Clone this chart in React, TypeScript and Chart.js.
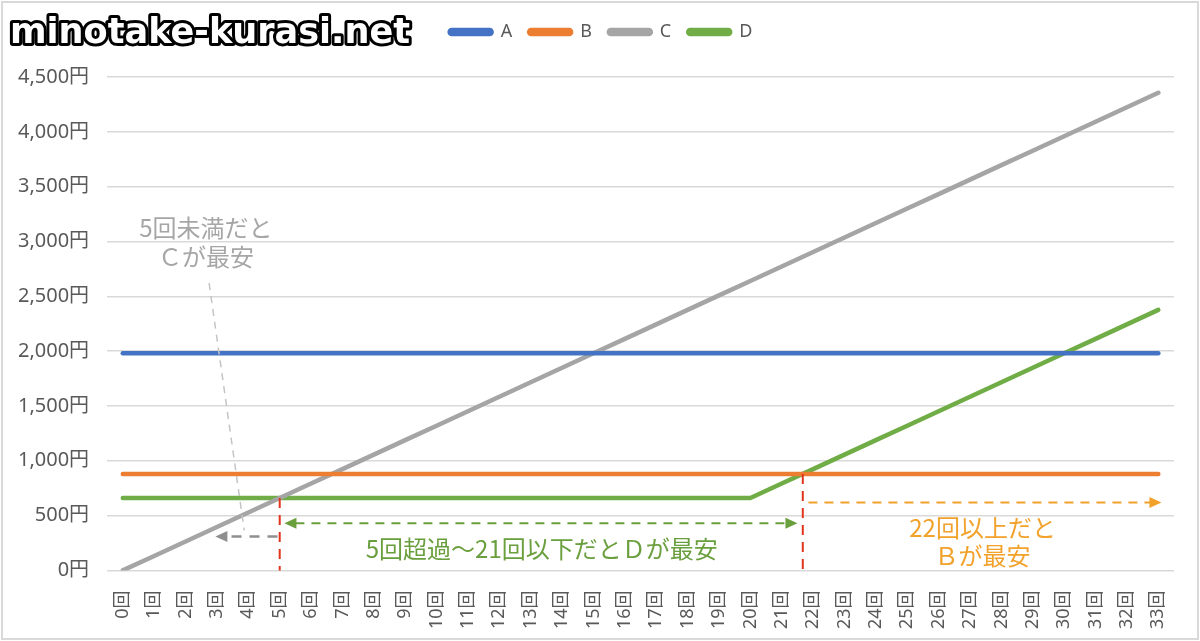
import React, { useEffect, useRef } from "react";
import { Chart, registerables } from "chart.js";

Chart.register(...registerables);

const categories = [
  "0回", "1回", "2回", "3回", "4回", "5回", "6回", "7回", "8回", "9回",
  "10回", "11回", "12回", "13回", "14回", "15回", "16回", "17回", "18回", "19回",
  "20回", "21回", "22回", "23回", "24回", "25回", "26回", "27回", "28回", "29回",
  "30回", "31回", "32回", "33回",
];

const seriesA = [
  1980, 1980, 1980, 1980, 1980, 1980, 1980, 1980, 1980, 1980,
  1980, 1980, 1980, 1980, 1980, 1980, 1980, 1980, 1980, 1980,
  1980, 1980, 1980, 1980, 1980, 1980, 1980, 1980, 1980, 1980,
  1980, 1980, 1980, 1980,
];

const seriesB = [
  880, 880, 880, 880, 880, 880, 880, 880, 880, 880,
  880, 880, 880, 880, 880, 880, 880, 880, 880, 880,
  880, 880, 880, 880, 880, 880, 880, 880, 880, 880,
  880, 880, 880, 880,
];

const seriesC = [
  0, 132, 264, 396, 528, 660, 792, 924, 1056, 1188,
  1320, 1452, 1584, 1716, 1848, 1980, 2112, 2244, 2376, 2508,
  2640, 2772, 2904, 3036, 3168, 3300, 3432, 3564, 3696, 3828,
  3960, 4092, 4224, 4356,
];

const seriesD = [
  660, 660, 660, 660, 660, 660, 660, 660, 660, 660,
  660, 660, 660, 660, 660, 660, 660, 660, 660, 660,
  660, 792, 924, 1056, 1188, 1320, 1452, 1584, 1716, 1848,
  1980, 2112, 2244, 2376,
];

const seriesNames = ["A", "B", "C", "D"];
const yTicks = [0, 500, 1000, 1500, 2000, 2500, 3000, 3500, 4000, 4500];

const siteTitle = "minotake-kurasi.net";

// annotation texts
const noteGrayLines = ["5回未満だと", "Ｃが最安"];
const noteGreen = "5回超過〜21回以下だとＤが最安";
const noteOrangeLines = ["22回以上だと", "Ｂが最安"];

const COLORS = ["#4472c4", "#ed7d31", "#a5a5a5", "#70ad47"];
const FONT = '"Noto Sans CJK JP", "Noto Sans", sans-serif';
const TICK_FONT = '"Noto Sans", "Noto Sans CJK JP", sans-serif';

function arrowHead(ctx: CanvasRenderingContext2D, x: number, y: number, dir: number, color: string) {
  ctx.save();
  ctx.setLineDash([]);
  ctx.fillStyle = color;
  ctx.beginPath();
  ctx.moveTo(x, y);
  ctx.lineTo(x - dir * 12, y - 5.5);
  ctx.lineTo(x - dir * 12, y + 5.5);
  ctx.closePath();
  ctx.fill();
  ctx.restore();
}

const annotationPlugin = {
  id: "notes",
  beforeLayout(chart: any) {
    const lg = chart.legend;
    if (lg && !lg.__patched) {
      const f = lg.fit.bind(lg);
      lg.fit = () => {
        f();
        lg.height += 26;
      };
      lg.__patched = true;
    }
  },
  afterLayout(chart: any) {
    const lg = chart.legend;
    if (lg) {
      lg.left += 14;
      lg.right += 14;
    }
  },
  afterDatasetsDraw(chart: any) {
    const ctx: CanvasRenderingContext2D = chart.ctx;
    const xs = chart.scales.x;
    const ys = chart.scales.y;
    const X = (i: number) => xs.getPixelForValue(0) + i * (xs.getPixelForValue(1) - xs.getPixelForValue(0));
    const Y = (v: number) => ys.getPixelForValue(v);
    ctx.save();

    // gray slanted pointer
    ctx.strokeStyle = "#c4c4c4";
    ctx.lineWidth = 1.5;
    ctx.setLineDash([7, 6]);
    ctx.beginPath();
    ctx.moveTo(X(2.75), Y(2620));
    ctx.lineTo(X(3.87), Y(365));
    ctx.stroke();

    // gray arrow (left)
    ctx.strokeStyle = "#8f8f8f";
    ctx.lineWidth = 2.5;
    ctx.setLineDash([10, 8]);
    ctx.beginPath();
    ctx.moveTo(X(4.93), Y(310));
    ctx.lineTo(X(3.2), Y(310));
    ctx.stroke();
    arrowHead(ctx, X(2.95), Y(310), -1, "#8f8f8f");

    // red dashed verticals
    ctx.strokeStyle = "#e2341d";
    ctx.lineWidth = 2;
    ctx.setLineDash([10, 7]);
    ctx.beginPath();
    ctx.moveTo(X(5), Y(660));
    ctx.lineTo(X(5), Y(0));
    ctx.moveTo(X(21.67), Y(880));
    ctx.lineTo(X(21.67), Y(0));
    ctx.stroke();

    // green double arrow
    ctx.strokeStyle = "#6a9f3e";
    ctx.lineWidth = 2;
    ctx.setLineDash([9, 7]);
    ctx.beginPath();
    ctx.moveTo(X(5.5), Y(429));
    ctx.lineTo(X(21.15), Y(429));
    ctx.stroke();
    arrowHead(ctx, X(5.15), Y(429), -1, "#6a9f3e");
    arrowHead(ctx, X(21.5), Y(429), 1, "#6a9f3e");

    // orange arrow
    ctx.strokeStyle = "#f2a12a";
    ctx.lineWidth = 2;
    ctx.setLineDash([9, 7]);
    ctx.beginPath();
    ctx.moveTo(X(21.85), Y(620));
    ctx.lineTo(X(32.75), Y(620));
    ctx.stroke();
    arrowHead(ctx, X(33.1), Y(620), 1, "#f2a12a");

    ctx.setLineDash([]);
    ctx.textAlign = "center";
    ctx.textBaseline = "middle";
    ctx.font = `24px ${FONT}`;

    ctx.fillStyle = "#a6a6a6";
    ctx.fillText(noteGrayLines[0], X(2.65), Y(3121));
    ctx.fillText(noteGrayLines[1], X(2.65), Y(2857));

    ctx.fillStyle = "#6a9f3e";
    ctx.fillText(noteGreen, X(13.35), Y(192));

    ctx.fillStyle = "#f2a12a";
    ctx.fillText(noteOrangeLines[0], X(27.4), Y(392));
    ctx.fillText(noteOrangeLines[1], X(27.4), Y(128));

    ctx.restore();
  },
  afterDraw(chart: any) {
    const ctx: CanvasRenderingContext2D = chart.ctx;
    ctx.save();
    // outer frame
    ctx.strokeStyle = "#d9d9d9";
    ctx.lineWidth = 2;
    ctx.strokeRect(2, 2, 1196, 637);
    // site title
    ctx.font = `bold 35px "DejaVu Sans", sans-serif`;
    ctx.textAlign = "left";
    ctx.textBaseline = "alphabetic";
    const w = ctx.measureText(siteTitle).width;
    const sx = 400 / w;
    ctx.translate(10, 43);
    ctx.scale(sx, 1);
    ctx.lineJoin = "round";
    ctx.strokeStyle = "#000000";
    ctx.lineWidth = 6;
    ctx.strokeText(siteTitle, 0, 0);
    ctx.fillStyle = "#ffffff";
    ctx.fillText(siteTitle, 0, 0);
    ctx.restore();
  },
};

export default function App() {
  const ref = useRef<HTMLCanvasElement | null>(null);

  useEffect(() => {
    if (!ref.current) return;
    const chart = new Chart(ref.current, {
      type: "line",
      data: {
        labels: categories,
        datasets: [seriesA, seriesB, seriesC, seriesD].map((d, i) => ({
          label: seriesNames[i],
          data: d,
          borderColor: COLORS[i],
          backgroundColor: COLORS[i],
          borderWidth: 4.5,
          pointRadius: 0,
          borderCapStyle: "round" as const,
          borderJoinStyle: "round" as const,
          tension: 0,
        })),
      },
      options: {
        animation: false,
        responsive: false,
        maintainAspectRatio: false,
        layout: { padding: { left: 0, right: 26, top: 6, bottom: 0 } },
        plugins: {
          legend: {
            position: "top",
            align: "center",
            labels: {
              boxWidth: 42,
              boxHeight: 4,
              padding: 17,
              color: "#595959",
              font: { family: TICK_FONT, size: 18 },
              useBorderRadius: true,
              borderRadius: 2,
            },
          },
          tooltip: { enabled: false },
        },
        scales: {
          x: {
            offset: true,
            grid: { display: false },
            border: { display: false },
            ticks: {
              autoSkip: false,
              maxRotation: 90,
              minRotation: 90,
              padding: 12,
              color: "#595959",
              font: { family: TICK_FONT, size: 18 },
            },
          },
          y: {
            min: 0,
            max: 4500,
            afterBuildTicks: (axis: any) => {
              axis.ticks = yTicks.map((v) => ({ value: v }));
            },
            grid: { color: "#d9d9d9", lineWidth: 1.5, drawTicks: false },
            border: { display: false },
            ticks: {
              padding: 18,
              color: "#595959",
              font: { family: TICK_FONT, size: 20 },
              callback: (v: any) => Number(v).toLocaleString("en-US") + "円",
            },
          },
        },
      },
      plugins: [annotationPlugin],
    });
    return () => chart.destroy();
  }, []);

  return (
    <div style={{ position: "fixed", left: 0, top: 0, width: 1200, height: 641, background: "#ffffff" }}>
      <canvas ref={ref} width={1200} height={641} style={{ display: "block", width: 1200, height: 641 }} />
    </div>
  );
}
